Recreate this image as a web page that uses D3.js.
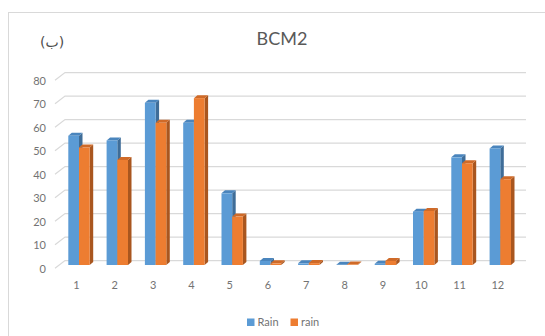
<!DOCTYPE html>
<html>
<head>
<meta charset="utf-8">
<script src="https://cdn.jsdelivr.net/npm/d3@7/dist/d3.min.js"></script>
<style>
  html, body { margin: 0; padding: 0; background: #ffffff; }
  svg { display: block; }
  text { font-family: Lato, "Open Sans", "DejaVu Sans", sans-serif; fill: #6b6b6b; }
</style>
</head>
<body>
<script>
// Monthly rainfall, two series
const months = ["1","2","3","4","5","6","7","8","9","10","11","12"];
const seriesNames = ["Rain", "rain"];
const rainUpper = [55, 53, 69, 60.5, 30.5, 1.7, 0.7, 0.1, 0.5, 22.7, 45.8, 49.6];
const rainLower = [50, 44.7, 60.5, 71, 20.6, 0.7, 0.8, 0.2, 1.7, 23, 43.3, 36.5];
const yTicks = [0, 10, 20, 30, 40, 50, 60, 70, 80];

const W = 545, H = 336;
const colors = {
  Rain: { front: "#5b9bd5", side: "#3f6d98", top: "#4a85bd" },
  rain: { front: "#ed7d31", side: "#a9561f", top: "#cf6a28" }
};

const svg = d3.select("body").append("svg")
  .attr("width", W).attr("height", H);

// chart frame
svg.append("rect")
  .attr("x", 8.5).attr("y", 12.5)
  .attr("width", 700).attr("height", 500)
  .attr("fill", "#ffffff").attr("stroke", "#d9d9d9").attr("stroke-width", 1);

// back wall value scale, bar-front value scale, label scale
const yWall = d3.scaleLinear().domain([0, 80]).range([260.6, 72.6]);
const yBar = d3.scaleLinear().domain([0, 80]).range([265, 77]);
const yLabel = d3.scaleLinear().domain([0, 80]).range([268.6, 80.6]);

// category positions (pair centre) and series offset inside a pair
const x = d3.scalePoint().domain(months).range([79, 500.3]);
const xLab = d3.scalePoint().domain(months).range([76, 497.3]);
const xs = d3.scaleBand().domain(seriesNames).range([-10.7, 10.7]);

const depthX = 3.5, depthY = -3;

// gridlines on the back wall with short perspective stubs
const grid = svg.append("g");
grid.selectAll("path.grid").data(yTicks).join("path")
  .attr("class", "grid")
  .attr("d", d => {
    const g = yWall(d);
    return `M55,${g + 7.7}L65,${g}L526,${g}`;
  })
  .attr("fill", "none").attr("stroke", "#d9d9d9").attr("stroke-width", 1.2);

// value axis labels
const yAxis = svg.append("g")
  .attr("transform", "translate(50,0)")
  .call(d3.axisLeft(yLabel).tickValues(yTicks).tickSize(0).tickPadding(4));
yAxis.select(".domain").remove();
yAxis.selectAll("text").style("font-size", "11px").style("fill", "#737373")
  .style("font-family", "Lato, 'Open Sans', sans-serif");

// category axis labels
const xAxis = svg.append("g")
  .attr("transform", "translate(0,278)")
  .call(d3.axisBottom(xLab).tickSize(0).tickPadding(3));
xAxis.select(".domain").remove();
xAxis.selectAll("text").style("font-size", "11px").style("fill", "#737373")
  .style("font-family", "Lato, 'Open Sans', sans-serif");

// 3D columns
const data = [];
months.forEach((m, i) => {
  data.push({ m, s: "Rain", v: rainUpper[i] });
  data.push({ m, s: "rain", v: rainLower[i] });
});

const bw = xs.bandwidth();
const bars = svg.append("g").selectAll("g.bar").data(data).join("g").attr("class", "bar");

bars.each(function (d) {
  const g = d3.select(this);
  const x0 = x(d.m) + xs(d.s);
  const yt = yBar(d.v);
  const yb = yBar(0);
  const c = colors[d.s];
  // side face
  g.append("path")
    .attr("d", `M${x0 + bw},${yt}L${x0 + bw + depthX},${yt + depthY}L${x0 + bw + depthX},${yb + depthY}L${x0 + bw},${yb}Z`)
    .attr("fill", c.side);
  // top face
  g.append("path")
    .attr("d", `M${x0},${yt}L${x0 + depthX},${yt + depthY}L${x0 + bw + depthX},${yt + depthY}L${x0 + bw},${yt}Z`)
    .attr("fill", c.top);
  // front face
  g.append("rect")
    .attr("x", x0).attr("y", yt)
    .attr("width", bw).attr("height", Math.max(0, yb - yt))
    .attr("fill", c.front);
});

// titles
svg.append("text")
  .attr("x", 282).attr("y", 45)
  .attr("text-anchor", "middle")
  .style("font-size", "18px").style("fill", "#595959")
  .text("BCM2");

svg.append("text")
  .attr("x", 40).attr("y", 47)
  .style("font-size", "14px").style("fill", "#4d4d4d")
  .style("font-family", "'DejaVu Sans', sans-serif")
  .text("(ب)");

// legend
const legend = svg.append("g");
const legendItems = [
  { name: seriesNames[0], x: 247, color: colors.Rain.front },
  { name: seriesNames[1], x: 290.5, color: colors.rain.front }
];
legendItems.forEach(it => {
  legend.append("rect")
    .attr("x", it.x).attr("y", 318.5)
    .attr("width", 7.5).attr("height", 7.5)
    .attr("fill", it.color);
  legend.append("text")
    .attr("x", it.x + 10.5).attr("y", 326)
    .style("font-size", "11px").style("fill", "#737373")
    .text(it.name);
});
</script>
</body>
</html>
